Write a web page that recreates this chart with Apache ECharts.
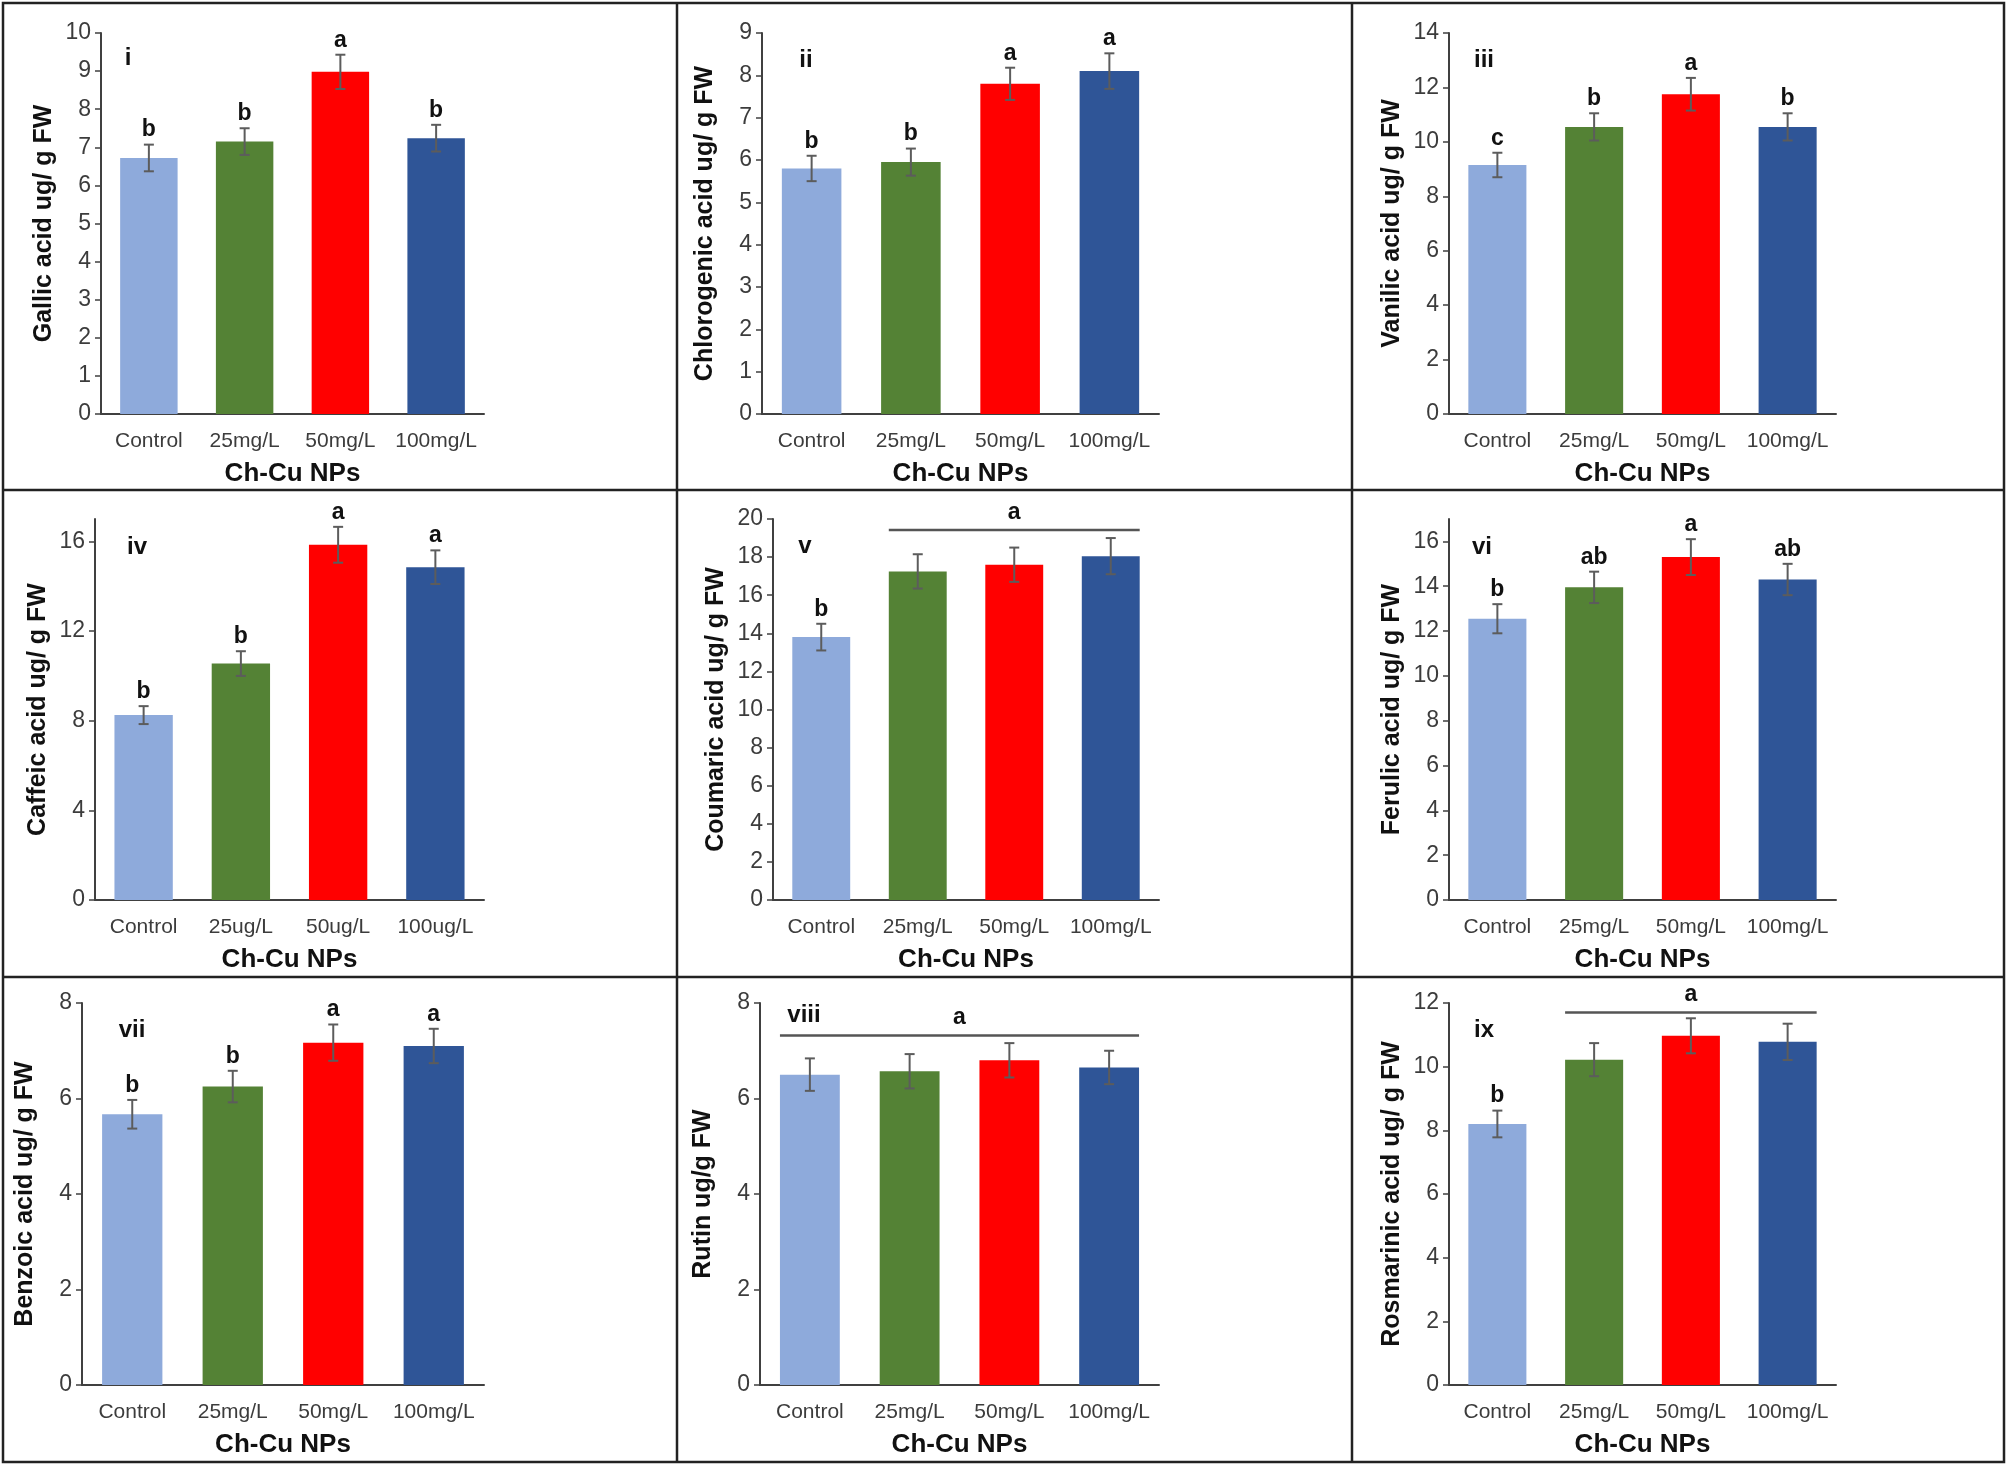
<!DOCTYPE html>
<html><head><meta charset="utf-8">
<script src="https://cdn.jsdelivr.net/npm/echarts@6/dist/echarts.min.js"></script>
<style>html,body{margin:0;padding:0;background:#fff}#c{width:2008px;height:1467px}</style>
</head><body><div id="c"></div>
<script>
// ---------- data ----------
const categoriesMg = ['Control', '25mg/L', '50mg/L', '100mg/L'];
const categoriesUg = ['Control', '25ug/L', '50ug/L', '100ug/L'];
const xAxisTitle = 'Ch-Cu NPs';

const gallicMean = [6.72, 7.15, 8.98, 7.24];
const gallicErr = [0.35, 0.35, 0.45, 0.35];
const gallicLetters = ['b', 'b', 'a', 'b'];

const chlorogenicMean = [5.8, 5.95, 7.8, 8.1];
const chlorogenicErr = [0.3, 0.32, 0.38, 0.42];
const chlorogenicLetters = ['b', 'b', 'a', 'a'];

const vanilicMean = [9.15, 10.55, 11.75, 10.55];
const vanilicErr = [0.45, 0.5, 0.6, 0.5];
const vanilicLetters = ['c', 'b', 'a', 'b'];

const caffeicMean = [8.25, 10.55, 15.85, 14.85];
const caffeicErr = [0.4, 0.55, 0.8, 0.75];
const caffeicLetters = ['b', 'b', 'a', 'a'];

const coumaricMean = [13.8, 17.25, 17.6, 18.05];
const coumaricErr = [0.7, 0.9, 0.9, 0.95];
const coumaricLetters = ['b', '', '', ''];
const coumaricBracket = [1, 3, 19.42];
const coumaricBracketLetter = 'a';

const ferulicMean = [12.55, 13.95, 15.3, 14.3];
const ferulicErr = [0.65, 0.7, 0.8, 0.7];
const ferulicLetters = ['b', 'ab', 'a', 'ab'];

const benzoicMean = [5.67, 6.25, 7.17, 7.1];
const benzoicErr = [0.3, 0.33, 0.38, 0.36];
const benzoicLetters = ['b', 'b', 'a', 'a'];

const rutinMean = [6.5, 6.57, 6.8, 6.65];
const rutinErr = [0.34, 0.36, 0.36, 0.35];
const rutinLetters = ['', '', '', ''];
const rutinBracket = [0, 3, 7.32];
const rutinBracketLetter = 'a';

const rosmarinicMean = [8.2, 10.22, 10.97, 10.78];
const rosmarinicErr = [0.42, 0.52, 0.55, 0.57];
const rosmarinicLetters = ['b', '', '', ''];
const rosmarinicBracket = [1, 3, 11.7];
const rosmarinicBracketLetter = 'a';

const panels = [
  { tag: 'i', yName: 'Gallic acid ug/ g FW', cats: categoriesMg, mean: gallicMean, err: gallicErr, letters: gallicLetters, max: 10, interval: 1 },
  { tag: 'ii', yName: 'Chlorogenic acid ug/ g FW', cats: categoriesMg, mean: chlorogenicMean, err: chlorogenicErr, letters: chlorogenicLetters, max: 9, interval: 1 },
  { tag: 'iii', yName: 'Vanilic acid ug/ g FW', cats: categoriesMg, mean: vanilicMean, err: vanilicErr, letters: vanilicLetters, max: 14, interval: 2 },
  { tag: 'iv', yName: 'Caffeic acid ug/ g FW', cats: categoriesUg, mean: caffeicMean, err: caffeicErr, letters: caffeicLetters, max: 17, interval: 4 },
  { tag: 'v', yName: 'Coumaric acid ug/ g FW', cats: categoriesMg, mean: coumaricMean, err: coumaricErr, letters: coumaricLetters, max: 20, interval: 2, bracket: coumaricBracket, bracketLetter: coumaricBracketLetter },
  { tag: 'vi', yName: 'Ferulic acid ug/ g FW', cats: categoriesMg, mean: ferulicMean, err: ferulicErr, letters: ferulicLetters, max: 17, interval: 2 },
  { tag: 'vii', yName: 'Benzoic acid ug/ g FW', cats: categoriesMg, mean: benzoicMean, err: benzoicErr, letters: benzoicLetters, max: 8, interval: 2 },
  { tag: 'viii', yName: 'Rutin ug/g FW', cats: categoriesMg, mean: rutinMean, err: rutinErr, letters: rutinLetters, max: 8, interval: 2, bracket: rutinBracket, bracketLetter: rutinBracketLetter },
  { tag: 'ix', yName: 'Rosmarinic acid ug/ g FW', cats: categoriesMg, mean: rosmarinicMean, err: rosmarinicErr, letters: rosmarinicLetters, max: 12, interval: 2, bracket: rosmarinicBracket, bracketLetter: rosmarinicBracketLetter }
];

// ---------- layout / style ----------
const barColors = ['#8eaadb', '#548235', '#ff0000', '#2f5597'];
const FONT = '"Liberation Sans", Arial, sans-serif';
const gridBoxes = [
  { left: 101, right: 484, top: 33, bottom: 414 },
  { left: 762, right: 1159, top: 33, bottom: 414 },
  { left: 1449, right: 1836, top: 33, bottom: 414 },
  { left: 95, right: 484, top: 519, bottom: 900 },
  { left: 773, right: 1159, top: 519, bottom: 900 },
  { left: 1449, right: 1836, top: 519, bottom: 900 },
  { left: 82, right: 484, top: 1003, bottom: 1385 },
  { left: 760, right: 1159, top: 1003, bottom: 1385 },
  { left: 1449, right: 1836, top: 1003, bottom: 1385 }
];
const tagPos = [[128, 58], [806, 60], [1484, 60], [137, 547], [805, 546], [1482, 547], [132, 1030], [804, 1015], [1484, 1030]];

const axisColor = '#404040';
const errColor = '#5c5c5c';

function errRender(letters) {
  return function (params, api) {
    const i = api.value(0), v = api.value(1), e = api.value(2);
    const t = api.coord([i, v + e]);
    const b = api.coord([i, v - e]);
    const cap = 5;
    const st = { stroke: errColor, lineWidth: 2 };
    const children = [
      { type: 'line', shape: { x1: t[0], y1: t[1], x2: b[0], y2: b[1] }, style: st },
      { type: 'line', shape: { x1: t[0] - cap, y1: t[1], x2: t[0] + cap, y2: t[1] }, style: st },
      { type: 'line', shape: { x1: b[0] - cap, y1: b[1], x2: b[0] + cap, y2: b[1] }, style: st }
    ];
    const L = letters[params.dataIndex];
    if (L) {
      children.push({ type: 'text', x: t[0], y: t[1] - 3,
        style: { text: L, fill: '#111', font: 'bold 23px ' + FONT, align: 'center', verticalAlign: 'bottom' } });
    }
    return { type: 'group', children };
  };
}

function bracketRender(letter) {
  return function (params, api) {
    const s = api.value(0), e = api.value(1), y = api.value(2);
    const p1 = api.coord([s, y]);
    const p2 = api.coord([e, y]);
    const hw = api.size([1, 0])[0] * 0.6 / 2;
    const x1 = p1[0] - hw, x2 = p2[0] + hw;
    return { type: 'group', children: [
      { type: 'line', shape: { x1: x1, y1: p1[1], x2: x2, y2: p1[1] }, style: { stroke: '#555', lineWidth: 2.5 } },
      { type: 'text', x: (x1 + x2) / 2, y: p1[1] - 6,
        style: { text: letter, fill: '#111', font: 'bold 23px ' + FONT, align: 'center', verticalAlign: 'bottom' } }
    ] };
  };
}

const grid = [], xAxis = [], yAxis = [], series = [];
panels.forEach((p, k) => {
  const g = gridBoxes[k];
  grid.push({ left: g.left, top: g.top, width: g.right - g.left, height: g.bottom - g.top, containLabel: false });
  xAxis.push({
    type: 'category', gridIndex: k, data: p.cats,
    name: xAxisTitle, nameLocation: 'middle', nameGap: 47,
    nameTextStyle: { fontFamily: FONT, fontSize: 26, fontWeight: 'bold', color: '#111' },
    axisLine: { lineStyle: { color: axisColor, width: 2 } },
    axisTick: { alignWithLabel: true, length: 6, lineStyle: { color: axisColor, width: 1.5 } },
    axisLabel: { fontFamily: FONT, fontSize: 21, color: '#3c3c3c', margin: 17, interval: 0 },
    splitLine: { show: false }
  });
  yAxis.push({
    type: 'value', gridIndex: k, min: 0, max: p.max, interval: p.interval,
    name: p.yName, nameLocation: 'middle', nameGap: 44,
    nameTextStyle: { fontFamily: FONT, fontSize: 25, fontWeight: 'bold', color: '#111' },
    axisLine: { show: true, lineStyle: { color: axisColor, width: 2 } },
    axisTick: { show: true, length: 6, lineStyle: { color: axisColor, width: 1.5 } },
    axisLabel: { fontFamily: FONT, fontSize: 23, color: '#3c3c3c', margin: 10, showMaxLabel: p.max % p.interval === 0 },
    splitLine: { show: false }
  });
  series.push({
    type: 'bar', xAxisIndex: k, yAxisIndex: k, barWidth: '60%',
    data: p.mean.map((v, i) => ({ value: v, itemStyle: { color: barColors[i] } })),
    animation: false, silent: true
  });
  series.push({
    type: 'custom', xAxisIndex: k, yAxisIndex: k, z: 5,
    data: p.mean.map((v, i) => [i, v, p.err[i]]),
    renderItem: errRender(p.letters), animation: false, silent: true
  });
  if (p.bracket) {
    series.push({
      type: 'custom', xAxisIndex: k, yAxisIndex: k, z: 5,
      data: [p.bracket], encode: { x: 0, y: 2 },
      renderItem: bracketRender(p.bracketLetter), animation: false, silent: true
    });
  }
});

const graphic = [
  { type: 'rect', shape: { x: 3, y: 3, width: 2001, height: 1459 }, style: { fill: 'none', stroke: '#222', lineWidth: 2.5 }, z: 100 },
  { type: 'line', shape: { x1: 677, y1: 3, x2: 677, y2: 1462 }, style: { stroke: '#222', lineWidth: 2.5 }, z: 100 },
  { type: 'line', shape: { x1: 1352, y1: 3, x2: 1352, y2: 1462 }, style: { stroke: '#222', lineWidth: 2.5 }, z: 100 },
  { type: 'line', shape: { x1: 3, y1: 490, x2: 2004, y2: 490 }, style: { stroke: '#222', lineWidth: 2.5 }, z: 100 },
  { type: 'line', shape: { x1: 3, y1: 977, x2: 2004, y2: 977 }, style: { stroke: '#222', lineWidth: 2.5 }, z: 100 }
];
panels.forEach((p, k) => {
  graphic.push({ type: 'text', x: tagPos[k][0], y: tagPos[k][1], z: 100,
    style: { text: p.tag, fill: '#111', font: 'bold 24px ' + FONT, align: 'center', verticalAlign: 'middle' } });
});

const chart = echarts.init(document.getElementById('c'), null, { renderer: 'canvas' });
chart.setOption({ animation: false, backgroundColor: '#fff', grid, xAxis, yAxis, series, graphic });
</script></body></html>
